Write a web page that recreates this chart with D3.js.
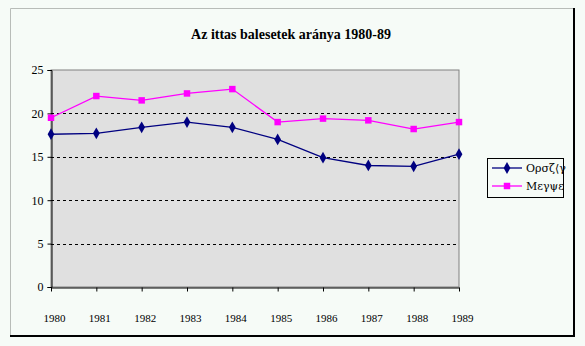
<!DOCTYPE html>
<html>
<head>
<meta charset="utf-8">
<script src="https://cdn.jsdelivr.net/npm/d3@7"></script>
<style>
  html, body { margin: 0; padding: 0; background: #f6fbf7; }
  svg { display: block; }
</style>
</head>
<body>
<svg id="chart" width="585" height="346"></svg>
<script>
// Chart data
const years = ["1980", "1981", "1982", "1983", "1984", "1985", "1986", "1987", "1988", "1989"];
const orszag = [17.6, 17.7, 18.4, 19.0, 18.4, 17.0, 14.9, 14.0, 13.9, 15.3];
const megye = [19.5, 22.0, 21.5, 22.3, 22.8, 19.0, 19.4, 19.2, 18.2, 19.0];
const yTicks = [0, 5, 10, 15, 20, 25];
const seriesNames = ["Ορσζ⟨γ", "Μεγψε"];

const serif = "Liberation Serif, Times New Roman, serif";
const svg = d3.select("#chart");
const W = 585, H = 346;
const plot = { left: 51, right: 459, top: 70, bottom: 287 };

// Outer chart frame (raised look: light top/left, dark bottom/right)
svg.append("rect").attr("x", 0).attr("y", 0).attr("width", W).attr("height", H).attr("fill", "#f6fbf7");
svg.append("path").attr("d", "M10.5,336 V8.5 H574").attr("fill", "none").attr("stroke", "#b8bcb8").attr("stroke-width", 1);
svg.append("path").attr("d", "M10,336 H574 V8").attr("fill", "none").attr("stroke", "#000").attr("stroke-width", 2);

// Title
svg.append("text")
  .attr("x", 291).attr("y", 39)
  .attr("text-anchor", "middle")
  .attr("font-family", serif)
  .attr("font-weight", "bold").attr("font-size", 14)
  .text("Az ittas balesetek aránya 1980-89");

const x = d3.scalePoint().domain(years).range([plot.left, plot.right]);
const y = d3.scaleLinear().domain([0, 25]).range([plot.bottom, plot.top]);

// Plot area
svg.append("rect")
  .attr("x", plot.left).attr("y", plot.top)
  .attr("width", plot.right - plot.left).attr("height", plot.bottom - plot.top)
  .attr("fill", "#e0e0e0").attr("stroke", "#808080").attr("stroke-width", 1);

// Dashed gridlines
svg.append("g").selectAll("line")
  .data(yTicks.filter(t => t > 0 && t < 25))
  .join("line")
  .attr("x1", plot.left).attr("x2", plot.right)
  .attr("y1", d => Math.round(y(d)) + 0.5).attr("y2", d => Math.round(y(d)) + 0.5)
  .attr("stroke", "#000").attr("stroke-dasharray", "3,3");

// Y axis
const yAxis = svg.append("g")
  .attr("transform", `translate(${plot.left + 0.5},0)`)
  .call(d3.axisLeft(y).tickValues(yTicks).tickSize(4).tickPadding(4));
yAxis.attr("font-family", serif);
yAxis.selectAll("text")
  .attr("font-family", serif)
  .attr("font-size", 12).attr("fill", "#000");
yAxis.select(".domain").attr("stroke", "#000");

// X axis
const xAxis = svg.append("g")
  .attr("transform", `translate(0,${plot.bottom + 0.5})`)
  .call(d3.axisBottom(x).tickSize(4).tickPadding(23).tickSizeOuter(0));
xAxis.attr("font-family", serif);
xAxis.selectAll("text")
  .attr("font-family", serif)
  .attr("font-size", 11).attr("fill", "#000")
  .attr("dx", 3);
xAxis.select(".domain").attr("stroke", "#000");

// Series
const series = [
  { name: seriesNames[0], values: orszag, color: "#000080", symbol: d3.symbolDiamond, size: 40 },
  { name: seriesNames[1], values: megye, color: "#ff00ff", symbol: d3.symbolSquare, size: 42 }
];

const line = d3.line().x((d, i) => x(years[i])).y(d => y(d));

series.forEach(s => {
  svg.append("path")
    .datum(s.values)
    .attr("d", line)
    .attr("fill", "none").attr("stroke", s.color).attr("stroke-width", 1.3);
  svg.append("g").selectAll("path")
    .data(s.values)
    .join("path")
    .attr("transform", (d, i) => `translate(${x(years[i])},${y(d)})`)
    .attr("d", d3.symbol().type(s.symbol).size(s.size))
    .attr("fill", s.color);
});

// Legend
const lg = svg.append("g");
lg.append("rect")
  .attr("x", 487.5).attr("y", 158.5).attr("width", 76).attr("height", 39)
  .attr("fill", "#f6fbf7").attr("stroke", "#000");
series.forEach((s, i) => {
  const cy = 168 + i * 18;
  lg.append("line").attr("x1", 492).attr("x2", 522).attr("y1", cy).attr("y2", cy)
    .attr("stroke", s.color).attr("stroke-width", 1.3);
  lg.append("path").attr("transform", `translate(507,${cy})`)
    .attr("d", d3.symbol().type(s.symbol).size(s.size)).attr("fill", s.color);
  lg.append("text").attr("x", 526).attr("y", cy + 4)
    .attr("font-family", "DejaVu Serif, " + serif)
    .attr("font-size", 11).attr("fill", "#000")
    .text(s.name);
});
</script>
</body>
</html>
